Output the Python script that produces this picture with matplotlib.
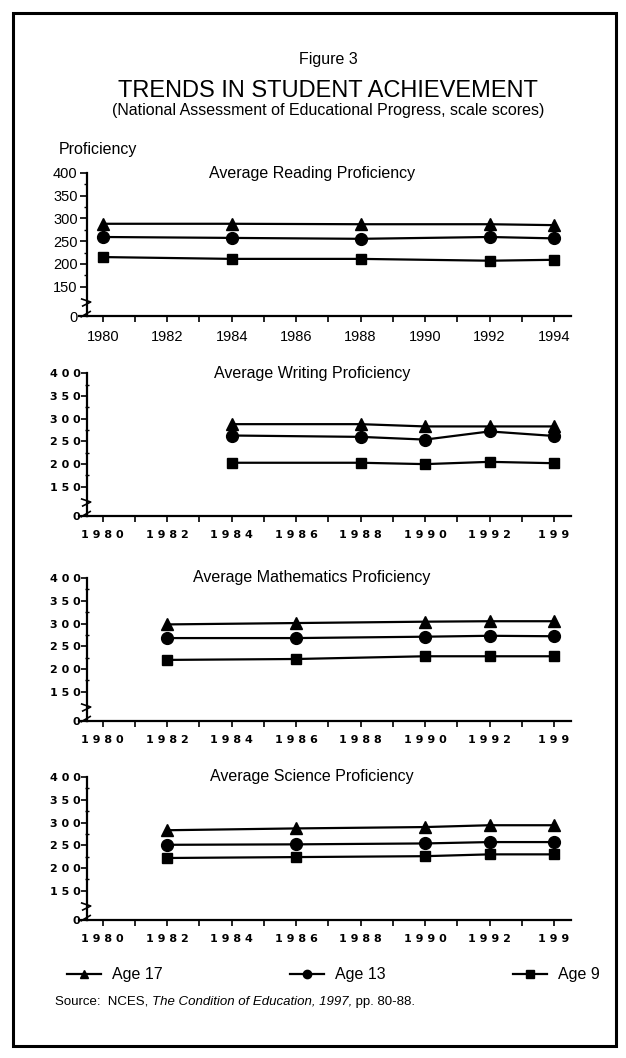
import matplotlib.pyplot as plt
import numpy as np
from matplotlib.lines import Line2D
from matplotlib.patches import Rectangle

W, H = 626, 1058
DPI = 100

plt.rcParams['font.family'] = ['Liberation Sans', 'DejaVu Sans']

# ---- data (scale scores) ----
all_years = list(range(1980, 1995))
y_ticks = [0, 150, 200, 250, 300, 350, 400]
y_minor = [175, 225, 275, 325, 375]

reading_years = [1980, 1984, 1988, 1992, 1994]
reading_17 = [288, 288, 287, 287, 285]
reading_13 = [259, 257, 255, 259, 256]
reading_9 = [215, 211, 211, 207, 209]

writing_years = [1984, 1988, 1990, 1992, 1994]
writing_17 = [288, 288, 283, 283, 283]
writing_13 = [263, 260, 254, 272, 262]
writing_9 = [203, 203, 200, 205, 202]

math_years = [1982, 1986, 1990, 1992, 1994]
math_17 = [298, 301, 304, 305, 305]
math_13 = [268, 268, 271, 273, 272]
math_9 = [220, 222, 228, 228, 228]

science_years = [1982, 1986, 1990, 1992, 1994]
science_17 = [283, 287, 290, 294, 294]
science_13 = [251, 252, 254, 257, 257]
science_9 = [222, 224, 226, 230, 230]

series_labels = ['Age 17', 'Age 13', 'Age 9']
series_markers = ['^', 'o', 's']
series_msize = [8, 8.5, 7.5]

# broken y axis: 0..150 squeezed, 150..400 linear
GAP = 1.285


def fwd(v):
    v = np.asarray(v, dtype=float)
    return np.where(v < 150, v / 150 * GAP, GAP + (v - 150) / 50)


def inv(u):
    u = np.asarray(u, dtype=float)
    return np.where(u < GAP, u / GAP * 150, 150 + (u - GAP) * 50)


fig = plt.figure(figsize=(W / DPI, H / DPI), dpi=DPI)

# page border
fig.patches.append(Rectangle((13 / W, 1 - 1046 / H), 603 / W, 1033.5 / H,
                             transform=fig.transFigure, fill=False,
                             ec='black', lw=2.2))

cx = 328 / W
fig.text(cx, 1 - 64 / H, 'Figure 3', ha='center', va='baseline', fontsize=11.5)
fig.text(cx, 1 - 97 / H, 'TRENDS IN STUDENT ACHIEVEMENT', ha='center',
         va='baseline', fontsize=17)
fig.text(cx, 1 - 115 / H,
         '(National Assessment of Educational Progress, scale scores)',
         ha='center', va='baseline', fontsize=11.5)
fig.text(59 / W, 1 - 154 / H, 'Proficiency', ha='left', va='baseline',
         fontsize=11.5)

panels = [
    ('Average Reading Proficiency', reading_years,
     [reading_17, reading_13, reading_9], 172.7, 316, 178, 'sans'),
    ('Average Writing Proficiency', writing_years,
     [writing_17, writing_13, writing_9], 373.3, 516, 378, 'mono'),
    ('Average Mathematics Proficiency', math_years,
     [math_17, math_13, math_9], 578, 721, 582, 'mono'),
    ('Average Science Proficiency', science_years,
     [science_17, science_13, science_9], 777, 920, 781, 'mono'),
]

AX_L, AX_R = 86.7, 571
for title, years, series, top, bottom, tbase, style in panels:
    ax = fig.add_axes([AX_L / W, 1 - bottom / H, (AX_R - AX_L) / W,
                       (bottom - top) / H])
    ax.set_yscale('function', functions=(fwd, inv))
    ax.set_ylim(0, 400)
    ax.set_xlim(1979.504, 1994.527)

    for vals, m, ms in zip(series, series_markers, series_msize):
        ax.plot(years, vals, color='black', lw=1.6, marker=m, ms=ms,
                clip_on=False)

    for s in ['top', 'right']:
        ax.spines[s].set_visible(False)
    for s in ['left', 'bottom']:
        ax.spines[s].set_linewidth(1.6)

    ax.set_xticks(all_years)
    ax.set_yticks(y_ticks)
    ax.set_yticks(y_minor, minor=True)
    if style == 'sans':
        xl = [str(y) if y % 2 == 0 else '' for y in all_years]
        yl = [str(v) for v in y_ticks]
        ax.set_xticklabels(xl, fontsize=10.5)
        ax.set_yticklabels(yl, fontsize=10.5)
        ax.tick_params(axis='y', which='major', direction='out', length=5,
                       width=1.2, pad=1.5)
        ax.tick_params(axis='y', which='minor', direction='out', length=2.5,
                       width=1)
    else:
        xl = [' '.join(str(y)) if y % 2 == 0 else '' for y in all_years]
        xl[-1] = '1 9 9'
        yl = [' '.join(str(v)) for v in y_ticks]
        ax.set_xticklabels(xl, fontsize=8, family='DejaVu Sans',
                           weight='bold')
        ax.set_yticklabels(yl, fontsize=8, family='DejaVu Sans',
                           weight='bold')
        ax.tick_params(axis='y', which='major', direction='out', length=4,
                       width=1.2, pad=0.5)
        ax.tick_params(axis='y', which='minor', direction='inout', length=3,
                       width=1)
    ax.tick_params(axis='x', which='major', direction='out', length=4,
                   width=1.2, pad=6)
    ax.patch.set_alpha(0)

    # axis break marks
    wa = AX_R - AX_L
    ha = bottom - top
    zz_x = np.array([-5, 4, -4]) / wa
    zz_y = np.array([17, 14, 10]) / ha
    ax.add_line(Line2D(zz_x, zz_y, transform=ax.transAxes, color='black',
                       lw=1.2, clip_on=False))
    ax.add_line(Line2D(np.array([-5.5, 3.5]) / wa, np.array([-0.8, 4.5]) / ha,
                       transform=ax.transAxes, color='black', lw=1.2,
                       clip_on=False))
    ax.add_line(Line2D(np.array([-8, 0]) / wa, [0, 0],
                       transform=ax.transAxes, color='black', lw=1.6,
                       clip_on=False))

    fig.text(312 / W, 1 - tbase / H, title, ha='center', va='baseline',
             fontsize=11.5)

# legend
handles = [Line2D([], [], color='black', lw=1.6, marker=m, ms=6)
           for m in series_markers]
fig.legend(handles, series_labels, loc='center left',
           bbox_to_anchor=(67 / W, 1 - 975 / H), ncol=3, frameon=False,
           handlelength=2.1, handletextpad=0.7, columnspacing=8.0,
           borderpad=0, borderaxespad=0, fontsize=11.5)

# source line with italic title
fig.canvas.draw()
renderer = fig.canvas.get_renderer()
parts = [('Source:  NCES, ', 'normal'),
         ('The Condition of Education, 1997,', 'italic'),
         (' pp. 80-88.', 'normal')]
x = 55
for txt, st in parts:
    t = fig.text(x / W, 1 - 1005 / H, txt, ha='left', va='baseline',
                 fontsize=9.5, style=st)
    bb = t.get_window_extent(renderer=renderer)
    x += bb.width

fig.savefig('out.png', dpi=DPI)
